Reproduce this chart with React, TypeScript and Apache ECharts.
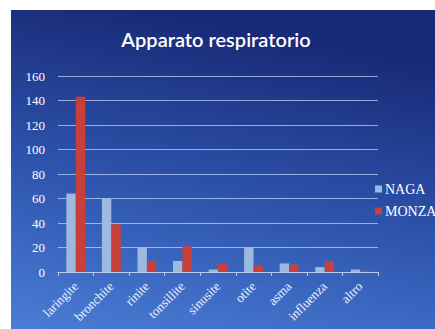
import React, { useEffect, useRef } from "react";
import * as echarts from "echarts";

const categories = ["laringite", "bronchite", "rinite", "tonsillite", "sinusite", "otite", "asma", "influenza", "altro"];
const nagaValues = [64, 60, 20, 9, 2, 20, 7, 4, 2];
const monzaValues = [143, 39, 9, 21, 7, 5, 6, 9, 1];
const yMin = 0;
const yMax = 160;
const yStep = 20;

export default function App() {
  const ref = useRef<HTMLDivElement>(null);
  useEffect(() => {
    if (!ref.current) return;
    const chart = echarts.init(ref.current, null, { renderer: "svg" });
    const serif = "'Liberation Serif', 'DejaVu Serif', serif";
    chart.setOption({
      animation: false,
      backgroundColor: "#ffffff",
      graphic: [
        {
          type: "rect",
          shape: { x: 11, y: 10, width: 424, height: 319 },
          z: -10,
          silent: true,
          style: {
            fill: new echarts.graphic.LinearGradient(0.25, 0, 0, 1, [
              { offset: 0, color: "#192b78" },
              { offset: 0.5, color: "#2e54ad" },
              { offset: 1, color: "#4a7dd5" },
            ]),
          },
        },
      ],
      title: {
        text: "Apparato respiratorio",
        left: 211,
        textAlign: "center",
        top: 24,
        textStyle: { color: "#ffffff", fontFamily: "Lato, 'Open Sans', sans-serif", fontSize: 20, fontWeight: 600 },
      },
      legend: {
        orient: "vertical",
        left: 370,
        top: 177,
        itemWidth: 7,
        itemHeight: 7,
        itemGap: 8,
        icon: "rect",
        textStyle: { color: "#ffffff", fontFamily: serif, fontSize: 14, padding: [0, 0, 0, -2] },
        data: ["NAGA", "MONZA"],
      },
      grid: { left: 58, right: 57, top: 76, bottom: 57, containLabel: false },
      xAxis: {
        type: "category",
        data: categories,
        axisLine: { lineStyle: { color: "#b8cbef", width: 1 } },
        axisTick: { show: true, alignWithLabel: false, length: 4, lineStyle: { color: "#b8cbef" } },
        axisLabel: { rotate: 45, color: "#eef2fb", fontFamily: serif, fontSize: 13, margin: 12 },
      },
      yAxis: {
        type: "value",
        min: yMin,
        max: yMax,
        interval: yStep,
        axisLine: { show: false },
        axisTick: { show: false },
        splitLine: { lineStyle: { color: "rgba(190,210,245,0.75)", width: 1 } },
        axisLabel: { color: "#ffffff", fontFamily: serif, fontSize: 13, margin: 13 },
      },
      series: [
        {
          name: "NAGA",
          type: "bar",
          data: nagaValues,
          itemStyle: { color: "#9cbae0" },
          barGap: "0%",
          barCategoryGap: "47%",
        },
        {
          name: "MONZA",
          type: "bar",
          data: monzaValues,
          itemStyle: { color: "#c8403c" },
          barGap: "0%",
          barCategoryGap: "47%",
        },
      ],
    });
    return () => chart.dispose();
  }, []);
  return <div ref={ref} style={{ position: "absolute", left: 0, top: 0, width: 435, height: 329 }} />;
}
